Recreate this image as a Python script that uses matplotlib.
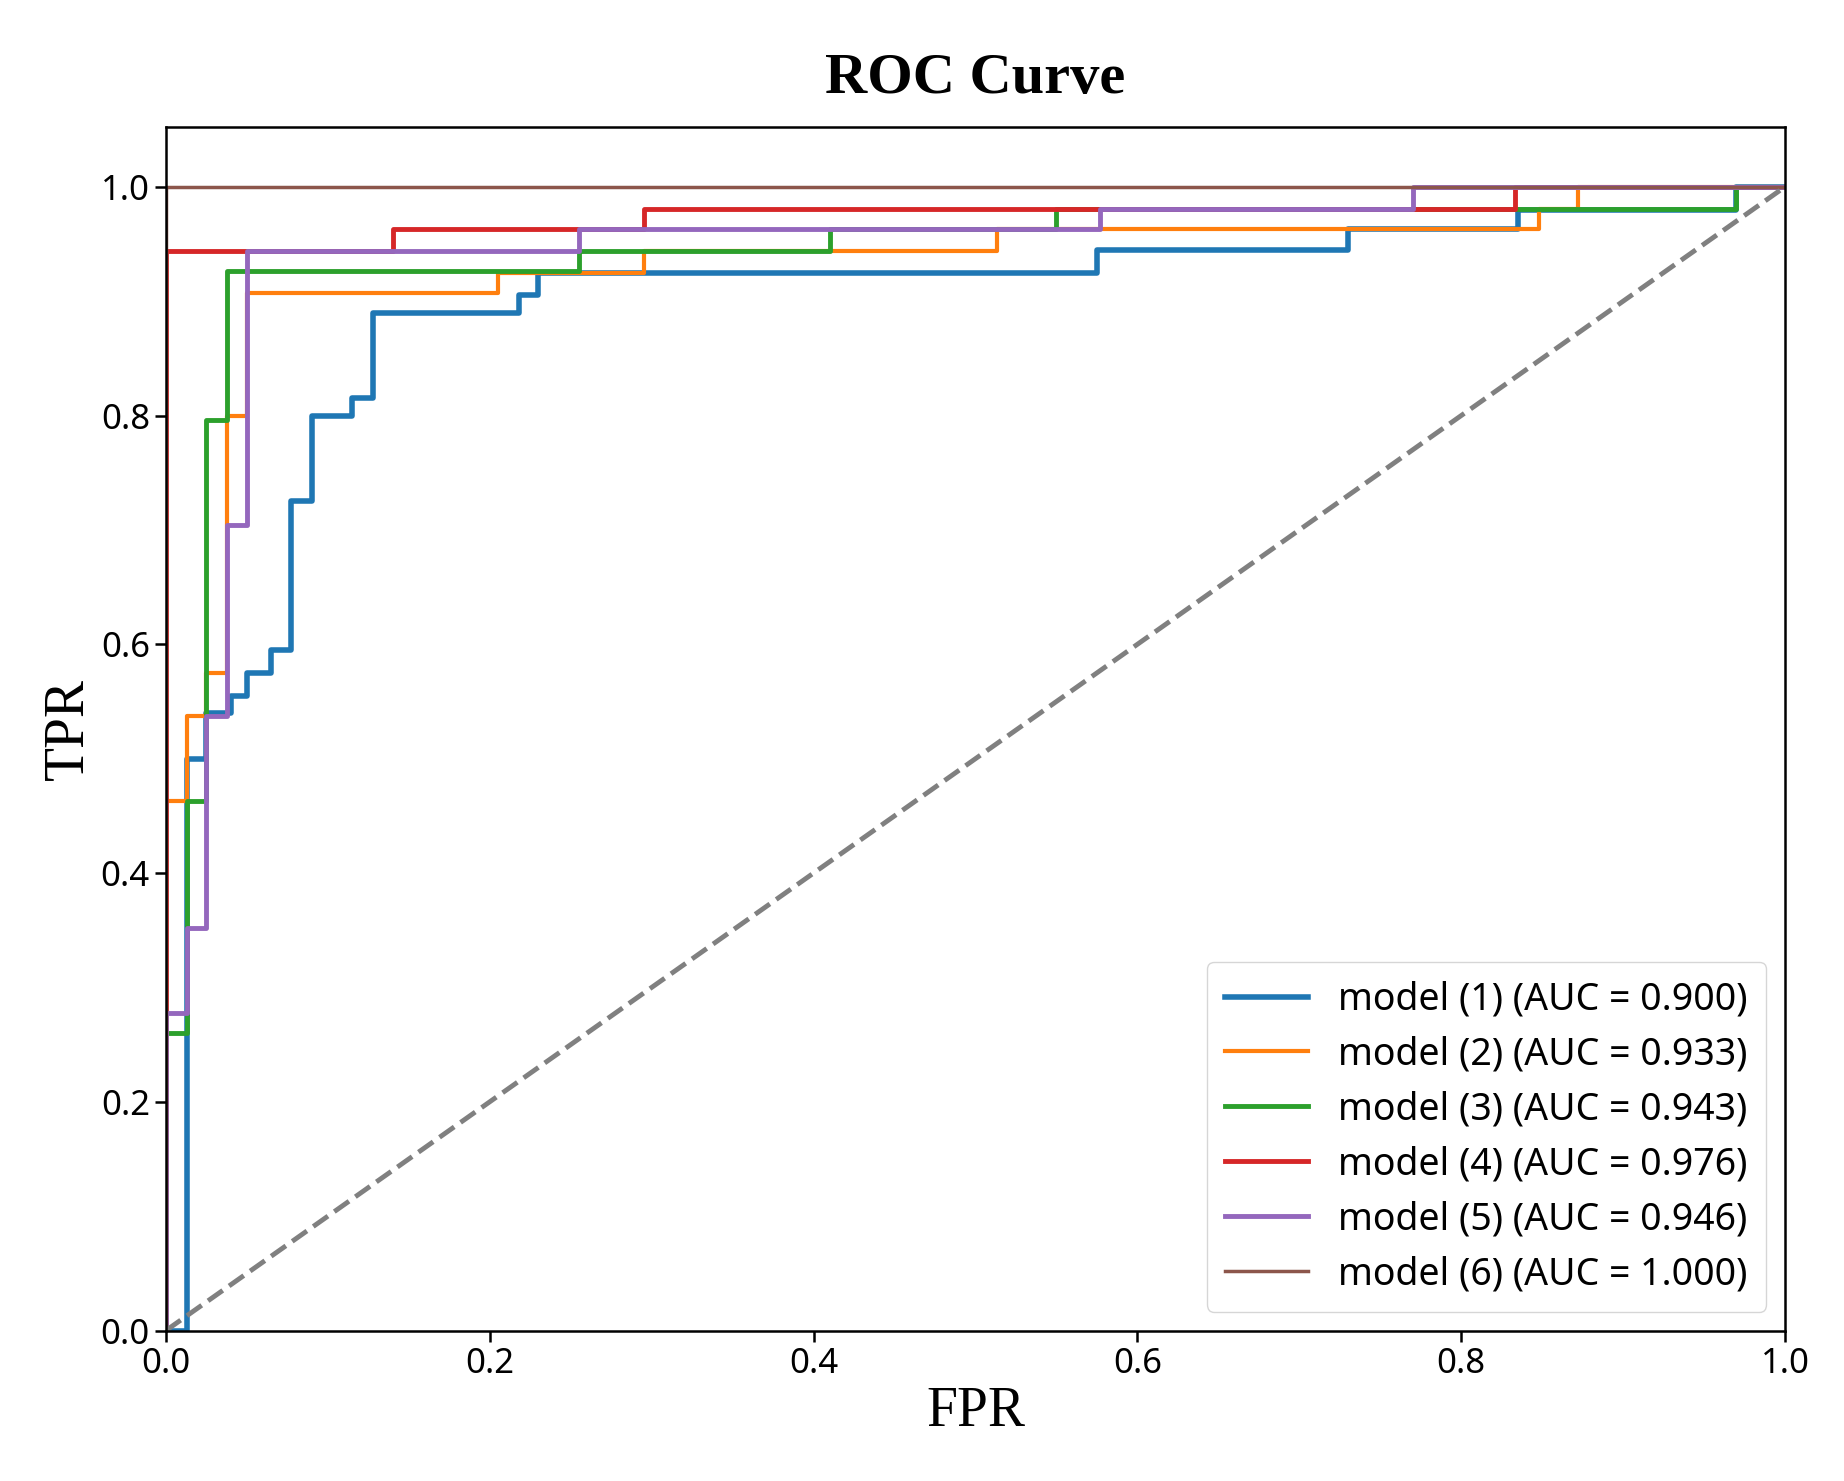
import matplotlib
matplotlib.use("Agg")
import matplotlib.pyplot as plt

labels = ["model (1) (AUC = 0.900)", "model (2) (AUC = 0.933)", "model (3) (AUC = 0.943)",
          "model (4) (AUC = 0.976)", "model (5) (AUC = 0.946)", "model (6) (AUC = 1.000)"]
colors = ["#1f77b4", "#ff7f0e", "#2ca02c", "#d62728", "#9467bd", "#8c564b"]

fpr1 = [0, 0.013, 0.013, 0.025, 0.04, 0.05, 0.065, 0.077, 0.09, 0.115, 0.128, 0.218, 0.23, 0.575, 0.73, 0.835, 0.97, 1.0]
tpr1 = [0, 0.111, 0.5, 0.54, 0.555, 0.575, 0.595, 0.725, 0.80, 0.815, 0.89, 0.905, 0.925, 0.945, 0.963, 0.98, 1.0, 1.0]
fpr2 = [0, 0, 0.013, 0.025, 0.038, 0.05, 0.205, 0.295, 0.513, 0.848, 0.872, 1.0]
tpr2 = [0, 0.463, 0.537, 0.575, 0.80, 0.907, 0.925, 0.944, 0.963, 0.981, 1.0, 1.0]
fpr3 = [0, 0, 0.013, 0.025, 0.038, 0.255, 0.41, 0.55, 0.97, 1.0]
tpr3 = [0, 0.26, 0.463, 0.796, 0.926, 0.944, 0.963, 0.981, 1.0, 1.0]
fpr4 = [0, 0, 0.14, 0.295, 0.833, 1.0]
tpr4 = [0, 0.944, 0.963, 0.981, 1.0, 1.0]
fpr5 = [0, 0, 0.013, 0.025, 0.038, 0.05, 0.255, 0.577, 0.77, 1.0]
tpr5 = [0, 0.278, 0.352, 0.537, 0.704, 0.944, 0.963, 0.981, 1.0, 1.0]
fpr6 = [0, 0, 1.0]
tpr6 = [0, 1.0, 1.0]

fprs = [fpr1, fpr2, fpr3, fpr4, fpr5, fpr6]
tprs = [tpr1, tpr2, tpr3, tpr4, tpr5, tpr6]
widths = [4.0, 3.0, 3.5, 3.5, 3.5, 2.5]

fig = plt.figure(figsize=(18.44, 14.81), dpi=100)
ax = fig.add_axes([0.090, 0.1016, 0.878, 0.8124])
for f, t, c, l, w in zip(fprs, tprs, colors, labels, widths):
    ax.step(f, t, where="post", color=c, lw=w, label=l)
ax.plot([0, 1], [0, 1], ls="--", color="gray", lw=3.5)
ax.set_xlim(0, 1)
ax.set_ylim(0, 1.052)
ax.set_xticks([0, 0.2, 0.4, 0.6, 0.8, 1.0])
ax.set_yticks([0, 0.2, 0.4, 0.6, 0.8, 1.0])
ax.tick_params(labelsize=25, length=8, width=1.8)
for lab in ax.get_xticklabels() + ax.get_yticklabels():
    lab.set_fontfamily("Noto Sans")
for s in ax.spines.values():
    s.set_linewidth(1.8)
ax.set_xlabel("FPR", fontfamily="Liberation Serif", fontsize=40)
ax.set_ylabel("TPR", fontfamily="Liberation Serif", fontsize=40)
ax.set_title("ROC Curve", fontfamily="Liberation Serif", fontsize=42, fontweight="bold", pad=25)
ax.legend(loc="lower right", prop={"family": "Noto Sans", "size": 27}, handlelength=2.2,
          borderpad=0.5, labelspacing=0.45)
fig.savefig("out.png", dpi=100)
